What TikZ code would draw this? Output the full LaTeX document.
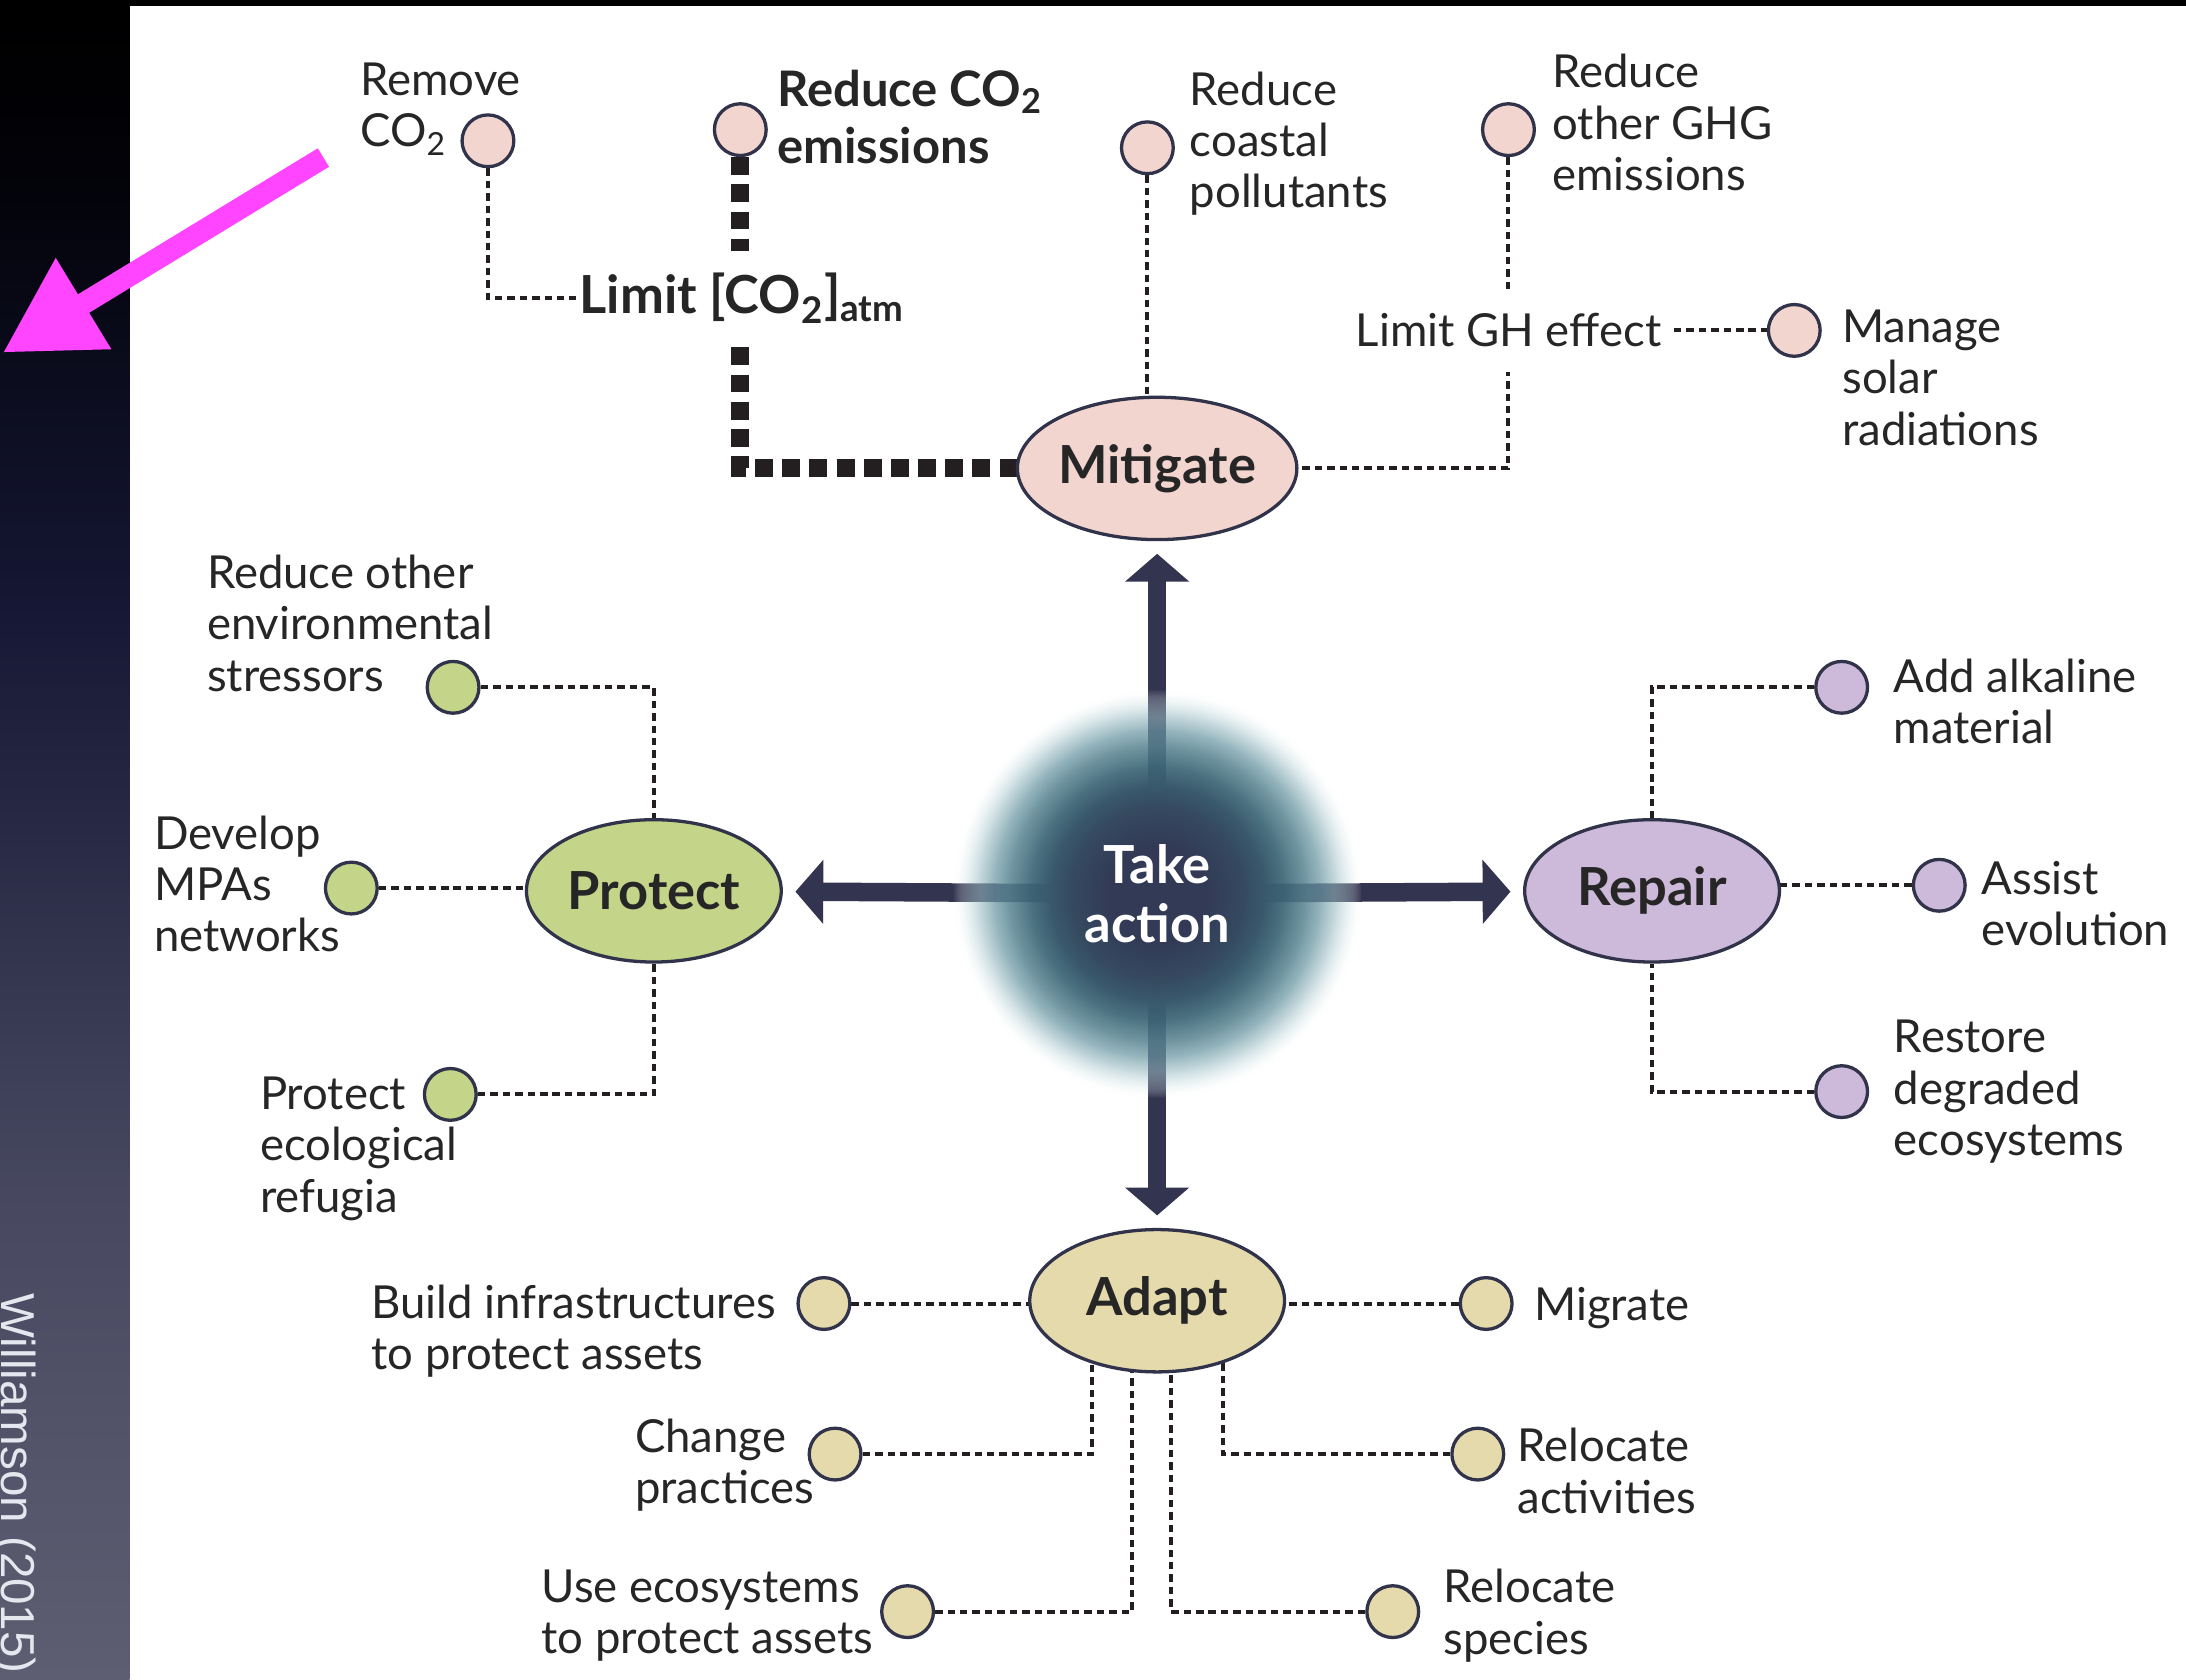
\documentclass[tikz,border=0pt]{standalone}
\usepackage{fontspec}
\setmainfont{Lato}
\newfontfamily\wfont{Liberation Sans}
\usetikzlibrary{shapes.geometric,arrows.meta,fadings,calc}
\definecolor{ink}{HTML}{262626}
\definecolor{edge}{HTML}{30334A}
\definecolor{pinkc}{HTML}{F3D5D0}
\definecolor{greenc}{HTML}{C4D58A}
\definecolor{purpc}{HTML}{CDB9D9}
\definecolor{tanc}{HTML}{E5DAAC}
\definecolor{navy}{HTML}{33344F}
\definecolor{dotc}{HTML}{231F20}
\definecolor{magarrow}{HTML}{FF45FF}
\definecolor{wcol}{HTML}{E6E6EE}
\definecolor{gA}{HTML}{323A56}
\definecolor{gB}{HTML}{35495F}
\definecolor{gC}{HTML}{3D6777}
\definecolor{gD}{HTML}{6A97A3}
\definecolor{gE}{HTML}{B8D2D7}
\definecolor{sA}{HTML}{020208}
\definecolor{sB}{HTML}{151734}
\definecolor{sC}{HTML}{474860}
\definecolor{sD}{HTML}{5E5E72}
% TikZ maps a path's bounding box onto the 25bp..75bp part of a 100bp shading
\pgfdeclareverticalshading{stripsh}{100bp}{color(0bp)=(sD); color(25bp)=(sD); color(39.5bp)=(sC); color(57bp)=(sB); color(70bp)=(sA); color(75bp)=(black); color(100bp)=(black)}
\pgfdeclareradialshading{glowcol}{\pgfpointorigin}{color(0bp)=(gA); color(6bp)=(gA); color(10.5bp)=(gB); color(15.5bp)=(gC); color(20bp)=(gD); color(23bp)=(gE); color(25bp)=(white); color(50bp)=(white)}
\pgfdeclareradialshading{glowmask}{\pgfpointorigin}{color(0bp)=(white); color(13bp)=(white); color(18bp)=(white!85!black); color(21.5bp)=(white!60!black); color(24bp)=(white!25!black); color(25bp)=(black); color(50bp)=(black)}
\pgfdeclarefading{glowfade}{\pgfuseshading{glowmask}}
\pgfdeclarelayer{bg}
\pgfsetlayers{bg,main}
\tikzset{
  txt/.style={font=\fontsize{13}{14.7}\selectfont, text=ink, align=left, anchor=west, inner sep=0pt},
  btxt/.style={font=\bfseries\fontsize{14}{16.5}\selectfont, text=ink, align=left, anchor=west, inner sep=0pt},
  dotline/.style={draw=dotc, line width=0.04cm, dash pattern=on 0.075cm off 0.05cm},
  thickdash/.style={draw=dotc, line width=0.18cm, dash pattern=on 0.18cm off 0.093cm},
  bubble/.style={circle, draw=edge, line width=0.033cm, minimum size=0.52cm, inner sep=0pt},
  hub/.style={ellipse, draw=edge, line width=0.033cm, minimum width=2.56cm, minimum height=1.43cm, inner sep=0pt, font=\bfseries\fontsize{15}{17}\selectfont, text=ink},
  bigarrow/.style={draw=navy, line width=0.186cm, -{Triangle[length=0.28cm,width=0.63cm]}, shorten >=0.126cm},
}
\begin{document}
\begin{tikzpicture}[x=0.014cm, y=-0.014cm]
\useasboundingbox (0,0) rectangle (1568,1205);
\begin{pgfonlayer}{bg}
  \fill[white] (0,0) rectangle (1568,1205);
  \shade[shading=stripsh] (0,0) rectangle (93,1205);
  \fill[black] (0,0) rectangle (1568,4.3);
\end{pgfonlayer}

% hubs
\node[hub, fill=pinkc] (mit) at (830,336) {Mitigate};
\node[hub, fill=greenc] (prot) at (469,639) {Protect};
\node[hub, fill=purpc] (rep) at (1185,639) {Repair};
\node[hub, fill=tanc] (ada) at (830,933) {Adapt};
\node[font=\bfseries\fontsize{15}{17.1}\selectfont, text=white, align=center, inner sep=0pt] (take) at (830,641) {Take\\action};

% bubbles
\node[bubble, fill=pinkc] (c_rco2) at (350,101) {};
\node[bubble, fill=pinkc] (c_rco2e) at (531,93) {};
\node[bubble, fill=pinkc] (c_rcp) at (823,106) {};
\node[bubble, fill=pinkc] (c_rghg) at (1082,93) {};
\node[bubble, fill=pinkc] (c_msr) at (1287,237) {};
\node[bubble, fill=greenc] (c_ros) at (325,493) {};
\node[bubble, fill=greenc] (c_dmpa) at (252,637) {};
\node[bubble, fill=greenc] (c_per) at (323,785) {};
\node[bubble, fill=purpc] (c_aam) at (1321,493) {};
\node[bubble, fill=purpc] (c_ae) at (1391,635) {};
\node[bubble, fill=purpc] (c_rde) at (1321,783) {};
\node[bubble, fill=tanc] (c_bip) at (591,935) {};
\node[bubble, fill=tanc] (c_mig) at (1066,935) {};
\node[bubble, fill=tanc] (c_cp) at (599,1043) {};
\node[bubble, fill=tanc] (c_ra) at (1060,1043) {};
\node[bubble, fill=tanc] (c_ue) at (651,1156) {};
\node[bubble, fill=tanc] (c_rs) at (999,1156) {};

% texts
\node[txt] (t_rco2) at (258,78) {Remove\\CO\textsubscript{2}};
\node[btxt] (t_rco2e) at (557,84) {Reduce CO\textsubscript{2}\\emissions};
\node[btxt, font=\bfseries\fontsize{15}{17}\selectfont, fill=white, inner xsep=0.03cm, inner ysep=0.22cm] (limco2) at (413,214) {Limit [CO\textsubscript{2}]\textsubscript{atm}};
\node[txt] (t_rcp) at (853,103) {Reduce\\coastal\\pollutants};
\node[txt] (t_rghg) at (1113,88) {Reduce\\other GHG\\emissions};
\node[txt, anchor=center, fill=white, inner xsep=0.12cm, inner ysep=0.25cm] (limgh) at (1082,237) {Limit GH effect};
\node[txt] (t_msr) at (1321,271) {Manage\\solar\\radiations};
\node[txt] (t_ros) at (148,447) {Reduce other\\environmental\\stressors};
\node[txt] (t_dmpa) at (110,634) {Develop\\MPAs\\networks};
\node[txt] (t_per) at (186,824) {Protect\\ecological\\refugia};
\node[txt] (t_aam) at (1358,503) {Add alkaline\\material};
\node[txt] (t_ae) at (1421,648) {Assist\\evolution};
\node[txt] (t_rde) at (1358,783) {Restore\\degraded\\ecosystems};
\node[txt] (t_bip) at (266,955) {Build infrastructures\\to protect assets};
\node[txt] (t_mig) at (1100,938) {Migrate};
\node[txt] (t_cp) at (455,1051) {Change\\practices};
\node[txt] (t_ra) at (1088,1055) {Relocate\\activities};
\node[txt] (t_ue) at (388,1159) {Use ecosystems\\to protect assets};
\node[txt] (t_rs) at (1035,1159) {Relocate\\species};

% connectors
\begin{pgfonlayer}{bg}
  \draw[dotline] (c_rco2) |- (limco2.west);
  \draw[thickdash] (c_rco2e) -- (c_rco2e |- mit.center) -- (mit.center);
  \draw[dotline] (c_rcp) -- (c_rcp |- mit.center);
  \draw[dotline] (c_rghg) -- (c_rghg |- mit.center) -- (mit.center);
  \draw[dotline] (limgh) -- (c_msr);
  \draw[dotline] (c_ros) -| (prot);
  \draw[dotline] (c_dmpa) -- (c_dmpa -| prot.center);
  \draw[dotline] (c_per) -| (prot);
  \draw[dotline] (c_aam) -| (rep);
  \draw[dotline] (c_ae) -- (c_ae -| rep.center);
  \draw[dotline] (c_rde) -| (rep);
  \draw[dotline] (c_bip) -- (c_bip -| ada.center);
  \draw[dotline] (c_mig) -- (c_mig -| ada.center);
  \draw[dotline] (c_cp) -| ([xshift=-0.658cm]ada.center);
  \draw[dotline] (c_ra) -| ([xshift=0.658cm]ada.center);
  \draw[dotline] (c_ue) -| ([xshift=-0.252cm]ada.center);
  \draw[dotline] (c_rs) -| ([xshift=0.14cm]ada.center);
  \draw[bigarrow] (take.center) -- (mit);
  \draw[bigarrow] (take.center) -- (prot);
  \draw[bigarrow] (take.center) -- (rep);
  \draw[bigarrow] (take.center) -- (ada);
  \shade[shading=glowcol, path fading=glowfade] (take.center) circle[radius=2.05cm];
\end{pgfonlayer}

% side note
\node[font=\wfont\fontsize{13.6}{16}\selectfont, text=wcol, rotate=-90, anchor=base west, inner sep=0pt] (cite) at (1,927) {Williamson (2015)};
\coordinate (pa1) at (232,113);
\coordinate (pa2) at (2,253);
\draw[magarrow, line width=0.217cm, -{Triangle[length=0.95cm,width=1.01cm]}] (pa1) -- (pa2);
\end{tikzpicture}
\end{document}
